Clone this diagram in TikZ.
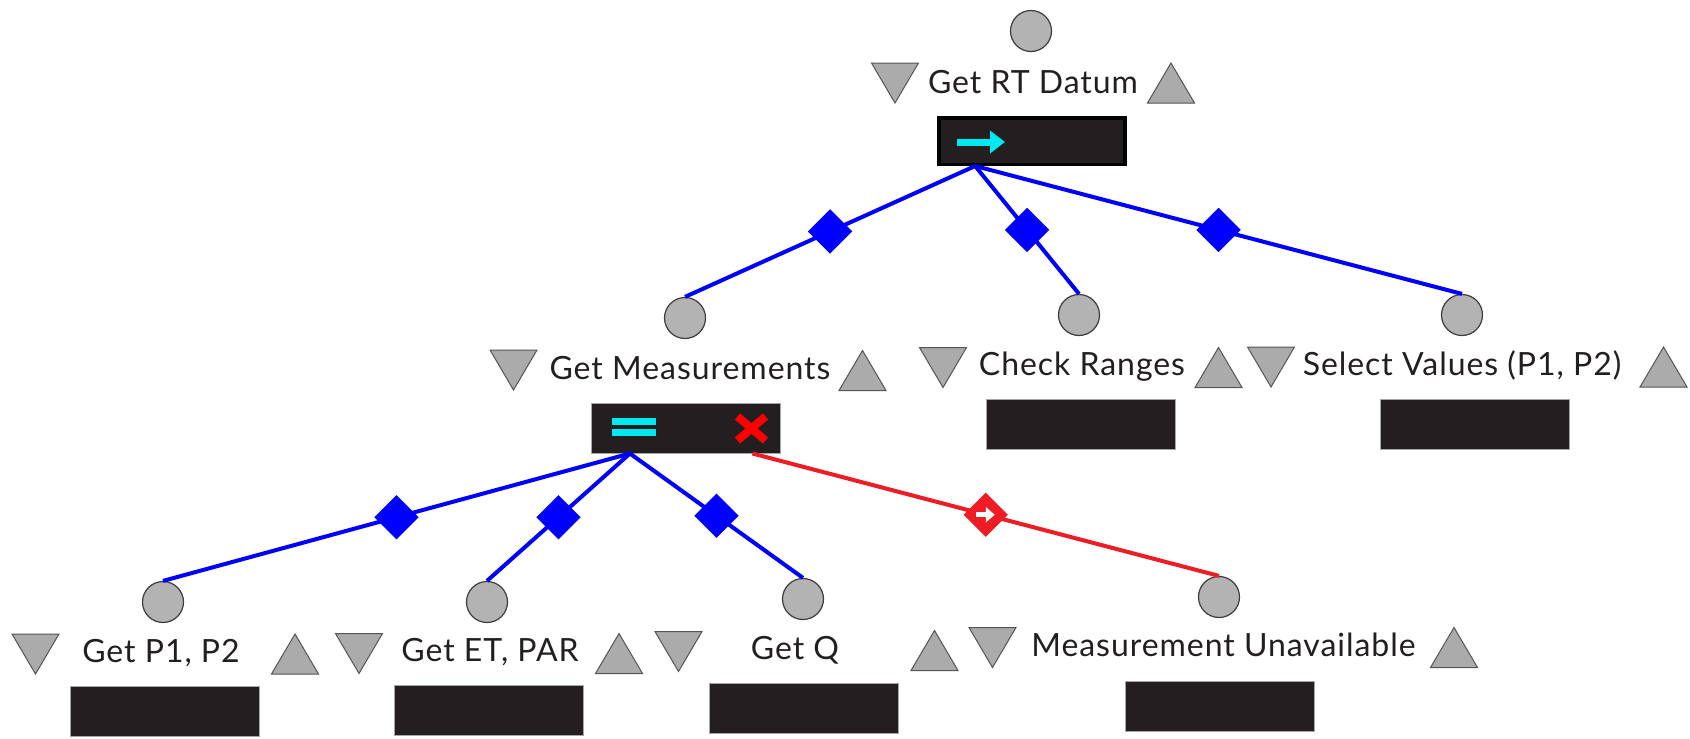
\documentclass[tikz,border=0pt]{standalone}
\usepackage{fontspec}
\setmainfont{Lato}[LetterSpace=3.0]
\usetikzlibrary{shapes.geometric,arrows.meta,calc}

\definecolor{boxfill}{HTML}{231F20}
\definecolor{knob}{HTML}{B3B3B3}
\definecolor{knobline}{HTML}{3C3C3C}
\definecolor{linkblue}{HTML}{0000FF}
\definecolor{linkred}{HTML}{EE1C25}
\definecolor{xred}{HTML}{FF0000}
\definecolor{marker}{HTML}{00E8F0}
\definecolor{trifill}{HTML}{ABABAB}
\definecolor{triline}{HTML}{555555}
\definecolor{ink}{HTML}{231F20}

\tikzset{
  knobnode/.style={circle, fill=knob, draw=knobline, line width=1.2pt,
    minimum size=41pt, inner sep=0pt},
  taskbox/.style={rectangle, fill=boxfill, draw=gray!70, line width=1pt,
    minimum width=189pt, minimum height=50pt, inner sep=0pt},
  rootbox/.style={taskbox, draw=black, line width=3.5pt,
    minimum width=186pt, minimum height=46.5pt},
  lbl/.style={font=\fontsize{32}{38}\selectfont, text=ink, inner sep=0pt, anchor=base},
  link/.style={line width=4pt, draw=linkblue},
  faillink/.style={line width=4pt, draw=linkred},
  gate/.style={diamond, fill=linkblue, minimum width=46pt, minimum height=46pt,
    inner sep=0pt, pos=0.5},
  failgate/.style={gate, fill=linkred},
  tridown/.pic={\path[fill=trifill, draw=triline, line width=1pt]
    (-23.5,-20) -- (23.5,-20) -- (0,20) -- cycle;},
  triup/.pic={\path[fill=trifill, draw=triline, line width=1pt]
    (-23.5,20) -- (23.5,20) -- (0,-20) -- cycle;},
}

\begin{document}
\begin{tikzpicture}[x=1pt, y=-1pt]
\useasboundingbox (0,0) rectangle (1690,739);

% ---- root: Get RT Datum ----
\node[knobnode] (c0) at (1031,31) {};
\pic at (895,83) {tridown};
\node[lbl] (t0) at (1033,93) {Get RT Datum};
\pic at (1171,83) {triup};
\node[rootbox] (b0) at (1032,141) {};
\draw[marker, line width=7pt, -{Triangle[length=15pt,width=22pt]}]
  ($(b0.center)+(-75,1)$) -- ($(b0.center)+(-27,1)$);

% ---- Get Measurements ----
\node[knobnode] (c1) at (685,318) {};
\pic at (513.5,370) {tridown};
\node[lbl] (t1) at (690,379) {Get Measurements};
\pic at (862.5,370.5) {triup};
\node[taskbox] (b1) at (686,428) {};
\fill[marker] ($(b1.center)+(-74,-10)$) rectangle ($(b1.center)+(-30,-3)$);
\fill[marker] ($(b1.center)+(-74,1)$) rectangle ($(b1.center)+(-30,8)$);
\draw[xred, line width=8pt]
  ($(b1.center)+(51.5,-11.5)$) -- ($(b1.center)+(79.5,12.5)$)
  ($(b1.center)+(51.5,12.5)$) -- ($(b1.center)+(79.5,-11.5)$);

% ---- Check Ranges ----
\node[knobnode] (c2) at (1079,315) {};
\pic at (943,367.5) {tridown};
\node[lbl] (t2) at (1082,375) {Check Ranges};
\pic at (1218.5,367.5) {triup};
\node[taskbox] (b2) at (1081,424.5) {};

% ---- Select Values (P1, P2) ----
\node[knobnode] (c3) at (1462,315) {};
\pic at (1271,367) {tridown};
\node[lbl] (t3) at (1462,375) {Select Values (P1, P2)};
\pic at (1663.5,367) {triup};
\node[taskbox] (b3) at (1474.5,424) {};

% ---- Get P1, P2 ----
\node[knobnode] (c4) at (163,602) {};
\pic at (35.5,654) {tridown};
\node[lbl] (t4) at (161,662) {Get P1, P2};
\pic at (295,654) {triup};
\node[taskbox] (b4) at (165,711.5) {};

% ---- Get ET, PAR ----
\node[knobnode] (c5) at (487,602) {};
\pic at (359,653.5) {tridown};
\node[lbl] (t5) at (490,661) {Get ET, PAR};
\pic at (619,653.5) {triup};
\node[taskbox] (b5) at (489,710) {};

% ---- Get Q ----
\node[knobnode] (c6) at (803,599) {};
\pic at (678.5,651.5) {tridown};
\node[lbl] (t6) at (795,659) {Get Q};
\pic at (934.5,650.5) {triup};
\node[taskbox] (b6) at (804,708.5) {};

% ---- Measurement Unavailable ----
\node[knobnode] (c7) at (1219,597) {};
\pic at (992.5,647.5) {tridown};
\node[lbl] (t7) at (1223.5,656) {Measurement Unavailable};
\pic at (1454,647.5) {triup};
\node[taskbox] (b7) at (1220,706) {};

% ---- connectors ----
\coordinate (s0) at ($(b0.south west)!0.2!(b0.south east)$);
\coordinate (s1) at ($(b1.south west)!0.205!(b1.south east)$);
\coordinate (s1r) at ($(b1.south west)!0.85!(b1.south east)$);

\draw[link] (s0) -- node[gate] (g1) {} (c1.north);
\draw[link] (s0) -- node[gate] (g2) {} (c2.north);
\draw[link] (s0) -- node[gate] (g3) {} (c3.north);

\draw[link] (s1) -- node[gate] (g4) {} (c4.north);
\draw[link] (s1) -- node[gate] (g5) {} (c5.north);
\draw[link] (s1) -- node[gate] (g6) {} (c6.north);
\draw[faillink] (s1r) -- node[failgate] (g7) {} (c7.north);
\draw[white, line width=5pt, -{Triangle[length=9pt,width=15pt]}]
  ($(g7.center)+(-10,0)$) -- ($(g7.center)+(9,0)$);
\end{tikzpicture}
\end{document}
